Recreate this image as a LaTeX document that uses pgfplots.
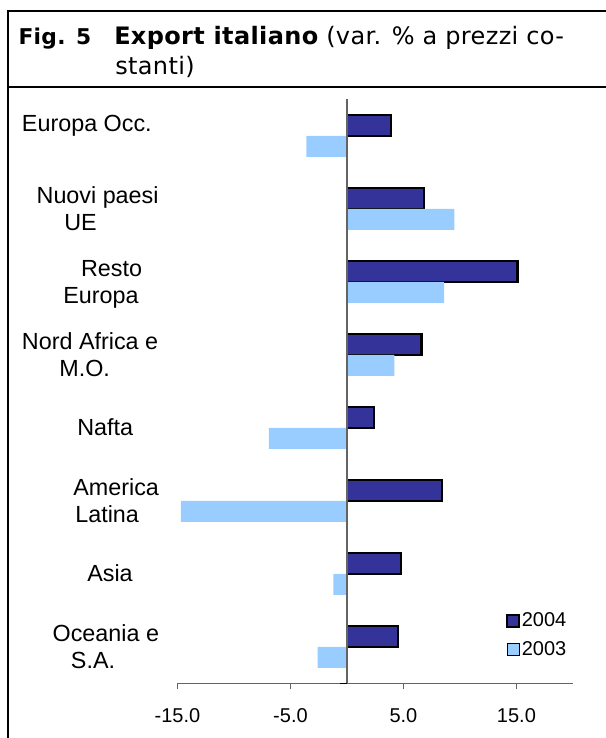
\documentclass[border=0pt]{standalone}
\usepackage{pgfplots}
\pgfplotsset{compat=1.18}
\usepackage{pgfplotstable}
\usepackage{fontspec}
\setmainfont{Liberation Sans}
\newfontfamily\titlefont[LetterSpace=1.5]{DejaVu Sans}
\definecolor{darkbar}{RGB}{51,51,153}
\definecolor{lightbar}{RGB}{153,204,255}
\definecolor{axgray}{RGB}{100,100,100}

\pgfplotstableread{
pos v2004 v2003
0 4.5 -2.6
1 4.8 -1.2
2 8.4 -14.7
3 2.4 -6.9
4 6.6 4.2
5 15.1 8.6
6 6.8 9.5
7 3.9 -3.6
}\exportdata

\begin{document}
\begin{tikzpicture}
\path[use as bounding box] (0,0) rectangle (454.5pt,553.5pt);
\draw[line width=1.5pt] (6.2pt,-2pt) -- (6.2pt,545.25pt) -- (456pt,545.25pt);
\draw[line width=1.5pt] (6.2pt,487.9pt) -- (456pt,487.9pt);
\node[anchor=base west, inner sep=0pt, font=\titlefont\bfseries\fontsize{16.3}{20}\selectfont] at (13.7pt,520.3pt) {Fig. 5};
\node[anchor=base west, inner sep=0pt, font=\titlefont\fontsize{18}{20}\selectfont] at (85.5pt,520.3pt) {{\bfseries Export italiano} (var. \% a prezzi co-};
\node[anchor=base west, inner sep=0pt, font=\titlefont\fontsize{18}{20}\selectfont] at (86.25pt,497.25pt) {stanti)};
\begin{axis}[
  at={(133.1pt,40.9pt)}, anchor=south west,
  scale only axis, width=296.6pt, height=438pt,
  xmin=-15, xmax=20, ymin=-0.5, ymax=7.5,
  enlargelimits=false,
  xbar, bar width=0.288,
  axis line style={draw=none},
  xtick={-15,-5,5,15}, xticklabels={-15.0,-5.0,5.0,15.0},
  xtick pos=bottom, ytick pos=left,
  tick align=outside, major tick length=4.5pt,
  xtick style={axgray, line width=0.75pt},
  ytick style={draw=none},
  ytick={0,1,2,3,4,5,6,7},
  yticklabels={
    {\hspace*{23pt}Oceania e\strut\\\hspace*{36.75pt}S.A.\strut},
    {\hspace*{49pt}Asia\strut},
    {\hspace*{38.5pt}America\strut\\\hspace*{40pt}Latina\strut},
    {\hspace*{41.5pt}Nafta\strut},
    {Nord Africa e\strut\\\hspace*{28pt}M.O.\strut},
    {\hspace*{44.3pt}Resto\strut\\\hspace*{31pt}Europa\strut},
    {\hspace*{11pt}Nuovi paesi\strut\\\hspace*{31.7pt}UE\strut},
    {\raisebox{9pt}[14pt][6pt]{Europa Occ.}}
  },
  xticklabel style={font=\fontsize{15}{18}\selectfont, yshift=-11pt},
  yticklabel style={font=\fontsize{17.5}{20}\selectfont, align=left, anchor=west, inner sep=0pt, xshift=-112.3pt, yshift=-2pt},
  legend style={at={(rel axis cs:0.8306,0.124)}, anchor=north west, draw=none, fill=none, inner sep=0pt, font=\fontsize{15}{18}\selectfont, row sep=7.5pt, nodes={inner sep=1pt}, /tikz/every even column/.append style={column sep=2.5pt}},
  legend cell align=left,
  legend image code/.code={\draw[#1] (0pt,-4.5pt) rectangle (9pt,4.5pt);},
]
\addplot[fill=darkbar, draw=black, line width=1.7pt, bar shift=0.144] table[x=v2004, y=pos] {\exportdata};
\addplot[fill=lightbar, draw=none, bar shift=-0.144] table[x=v2003, y=pos] {\exportdata};
\draw[axgray, line width=0.9pt] (axis cs:0,-0.5) -- (axis cs:0,7.5);
\draw[axgray, line width=0.9pt] (axis cs:-15,-0.5) -- (axis cs:20,-0.5);
\draw[black, line width=1.4pt] (axis cs:-0.6,-0.5) -- (axis cs:0,-0.5);
\legend{2004,2003}
\end{axis}
\end{tikzpicture}
\end{document}
